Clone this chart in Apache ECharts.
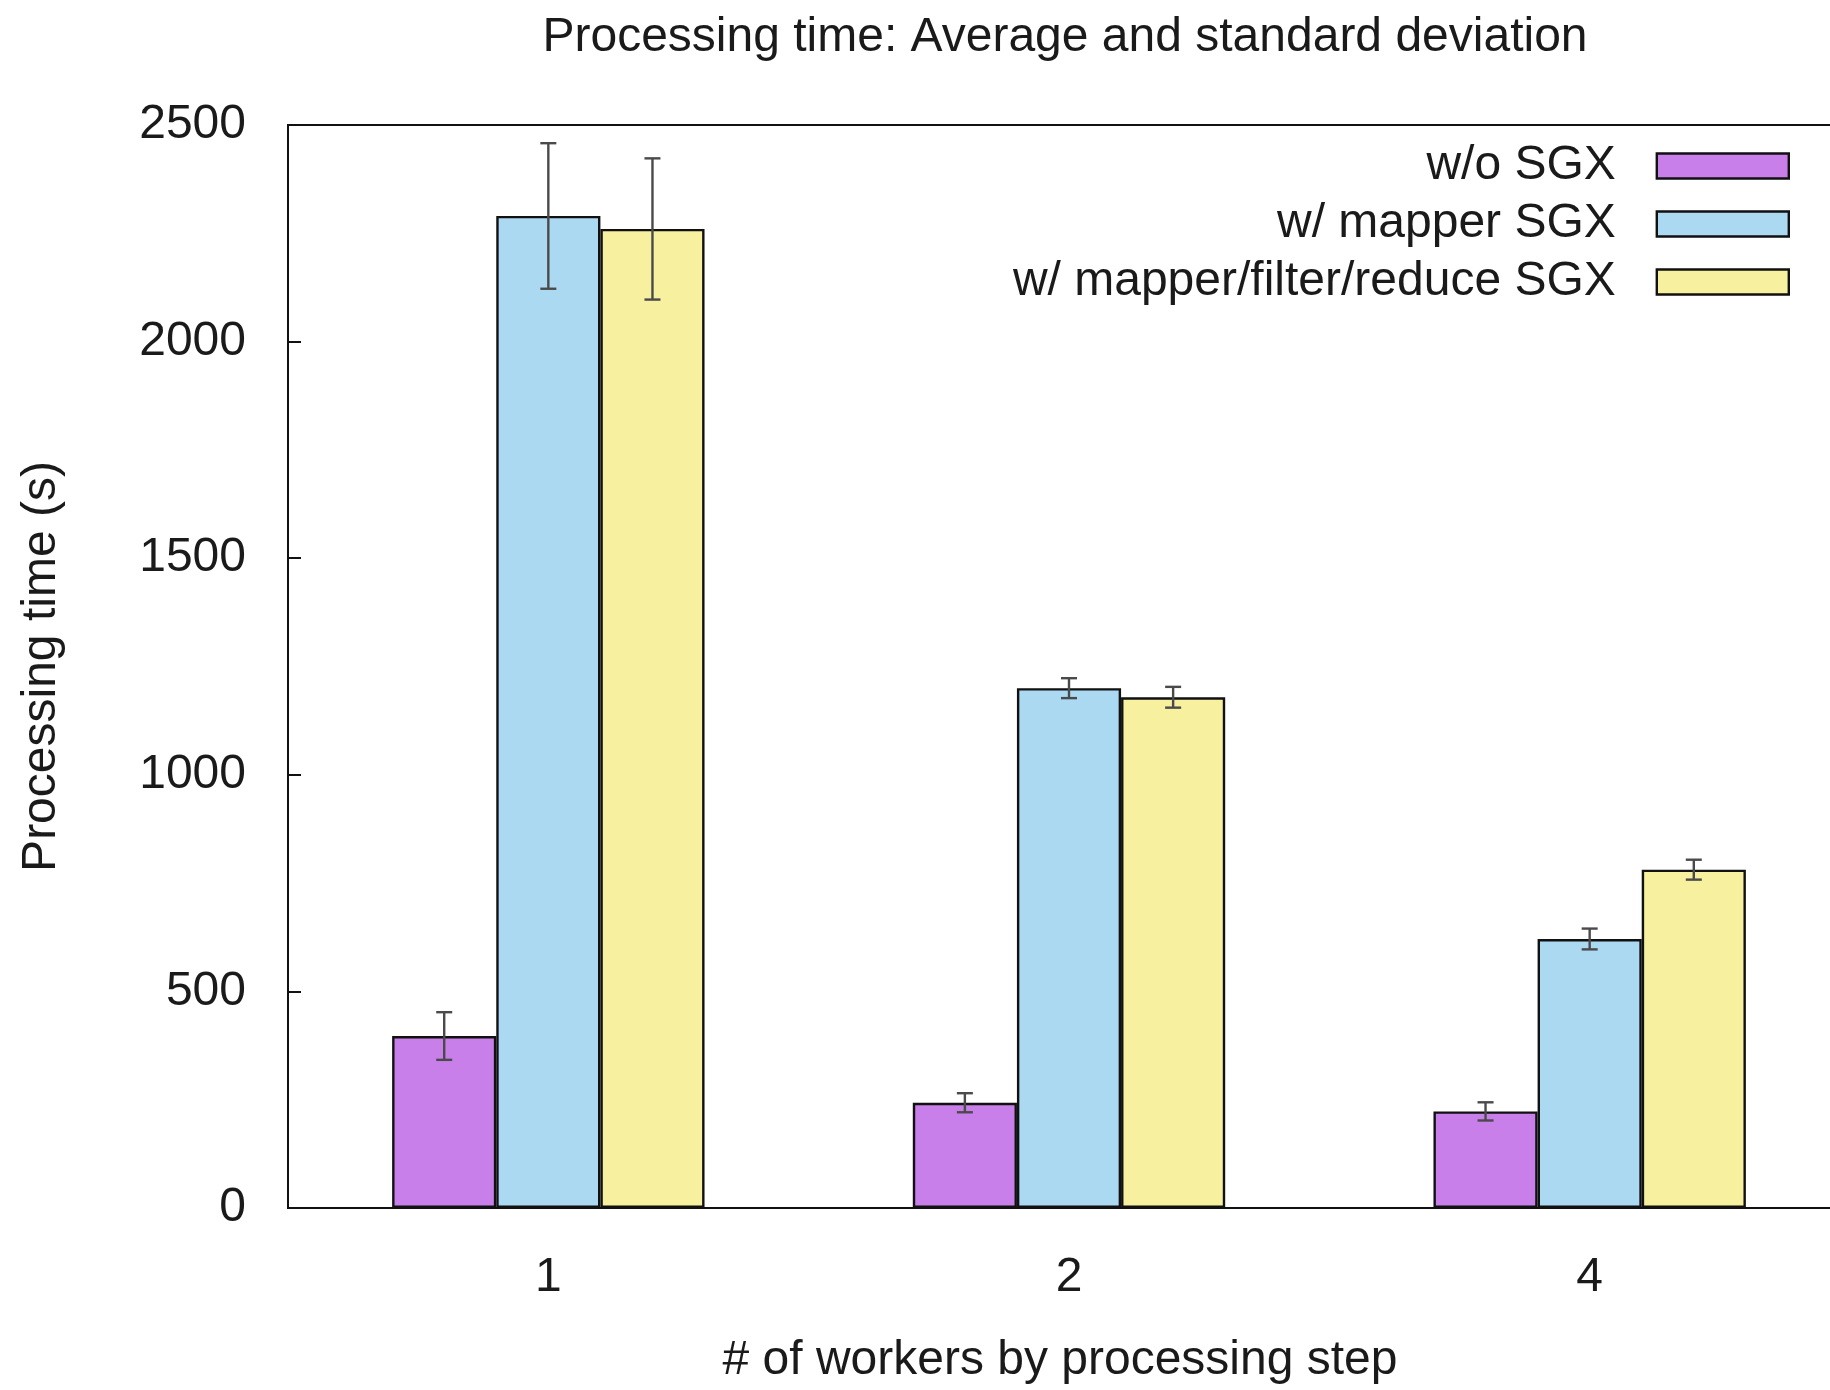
<!DOCTYPE html>
<html>
<head>
<meta charset="utf-8">
<script src="https://cdn.jsdelivr.net/npm/echarts@6/dist/echarts.min.js"></script>
<style>
html,body{margin:0;padding:0;background:#fff;overflow:hidden;}
#wrap{width:1830px;height:1390px;overflow:hidden;position:relative;}
#chart{width:1850px;height:1390px;position:absolute;left:0;top:0;}
</style>
</head>
<body>
<div id="wrap"><div id="chart"></div></div>
<script>
const categories = ['1', '2', '4'];
const seriesNames = ['w/o SGX', 'w/ mapper SGX', 'w/ mapper/filter/reduce SGX'];
const noSgx = [397, 243, 223];
const mapperSgx = [2290, 1200, 621];
const allSgx = [2260, 1179, 781];
const noSgxStd = [55, 22, 21];
const mapperSgxStd = [168, 23, 24];
const allSgxStd = [163, 24, 23];
const yTicks = [0, 500, 1000, 1500, 2000, 2500];

const colors = ['#c87fe9', '#acd9f2', '#f6f09f'];
const means = [noSgx, mapperSgx, allSgx];
const stds = [noSgxStd, mapperSgxStd, allSgxStd];
const FONT = 'Liberation Sans';
const FS = 48;

const chart = echarts.init(document.getElementById('chart'));

const barSeries = seriesNames.map((name, i) => ({
  name: name,
  type: 'bar',
  data: means[i],
  barWidth: '20%',
  barGap: '0%',
  itemStyle: { color: colors[i], borderColor: '#111', borderWidth: 2.4 },
  z: 2
}));

const errData = [];
for (let s = 0; s < 3; s++) {
  for (let c = 0; c < categories.length; c++) {
    errData.push([c, means[s][c] - stds[s][c], means[s][c] + stds[s][c], s]);
  }
}

const errSeries = {
  type: 'custom',
  name: 'err',
  data: errData,
  z: 10,
  silent: true,
  renderItem: function (params, api) {
    const c = api.value(0);
    const lo = api.value(1);
    const hi = api.value(2);
    const s = api.value(3);
    const band = api.size([1, 0])[0];
    const bw = band * 0.2;
    const off = (s - 1) * bw;
    const pLo = api.coord([c, lo]);
    const pHi = api.coord([c, hi]);
    const x = pLo[0] + off;
    const cap = 8;
    const st = { stroke: '#4a4a4a', lineWidth: 2.4 };
    return {
      type: 'group',
      children: [
        { type: 'line', shape: { x1: x, y1: pLo[1], x2: x, y2: pHi[1] }, style: st },
        { type: 'line', shape: { x1: x - cap, y1: pLo[1], x2: x + cap, y2: pLo[1] }, style: st },
        { type: 'line', shape: { x1: x - cap, y1: pHi[1], x2: x + cap, y2: pHi[1] }, style: st }
      ]
    };
  }
};

chart.setOption({
  backgroundColor: '#fff',
  animation: false,
  textStyle: { fontFamily: FONT },
  title: {
    text: 'Processing time: Average and standard deviation',
    left: 1060,
    textAlign: 'center',
    top: 9,
    textStyle: { fontFamily: FONT, fontSize: FS, fontWeight: 'normal', color: '#1a1a1a' }
  },
  legend: {
    data: seriesNames,
    orient: 'vertical',
    align: 'right',
    right: 55,
    top: 137,
    itemWidth: 132,
    itemHeight: 25,
    itemGap: 10,
    icon: 'rect',
    itemStyle: { borderColor: '#111', borderWidth: 2.4 },
    textStyle: { fontFamily: FONT, fontSize: FS, color: '#1a1a1a', padding: [0, 36, 0, 0] }
  },
  grid: {
    left: 288,
    top: 125,
    right: 0,
    bottom: 179,
    show: true,
    borderColor: '#111',
    borderWidth: 2,
    containLabel: false
  },
  xAxis: {
    type: 'category',
    data: categories,
    name: '# of workers by processing step',
    nameLocation: 'middle',
    nameGap: 129,
    nameTextStyle: { fontFamily: FONT, fontSize: FS, color: '#1a1a1a', padding: [0, 18, 0, 0] },
    axisLine: { lineStyle: { color: '#111', width: 2 } },
    axisTick: { alignWithLabel: true, length: 14, lineStyle: { color: '#111', width: 2 } },
    axisLabel: { fontFamily: FONT, fontSize: FS, color: '#1a1a1a', margin: 46 },
    splitLine: { show: false }
  },
  yAxis: {
    type: 'value',
    min: yTicks[0],
    max: yTicks[yTicks.length - 1],
    interval: yTicks[1] - yTicks[0],
    name: 'Processing time (s)',
    nameLocation: 'middle',
    nameGap: 222,
    nameTextStyle: { fontFamily: FONT, fontSize: FS, color: '#1a1a1a' },
    axisLine: { show: true, lineStyle: { color: '#111', width: 2 } },
    axisTick: { show: true, inside: true, length: 13, lineStyle: { color: '#111', width: 2 } },
    axisLabel: { fontFamily: FONT, fontSize: FS, color: '#1a1a1a', margin: 42, formatter: function (v) { return String(v); } },
    splitLine: { show: false }
  },
  series: barSeries.concat([errSeries])
});
</script>
</body>
</html>
